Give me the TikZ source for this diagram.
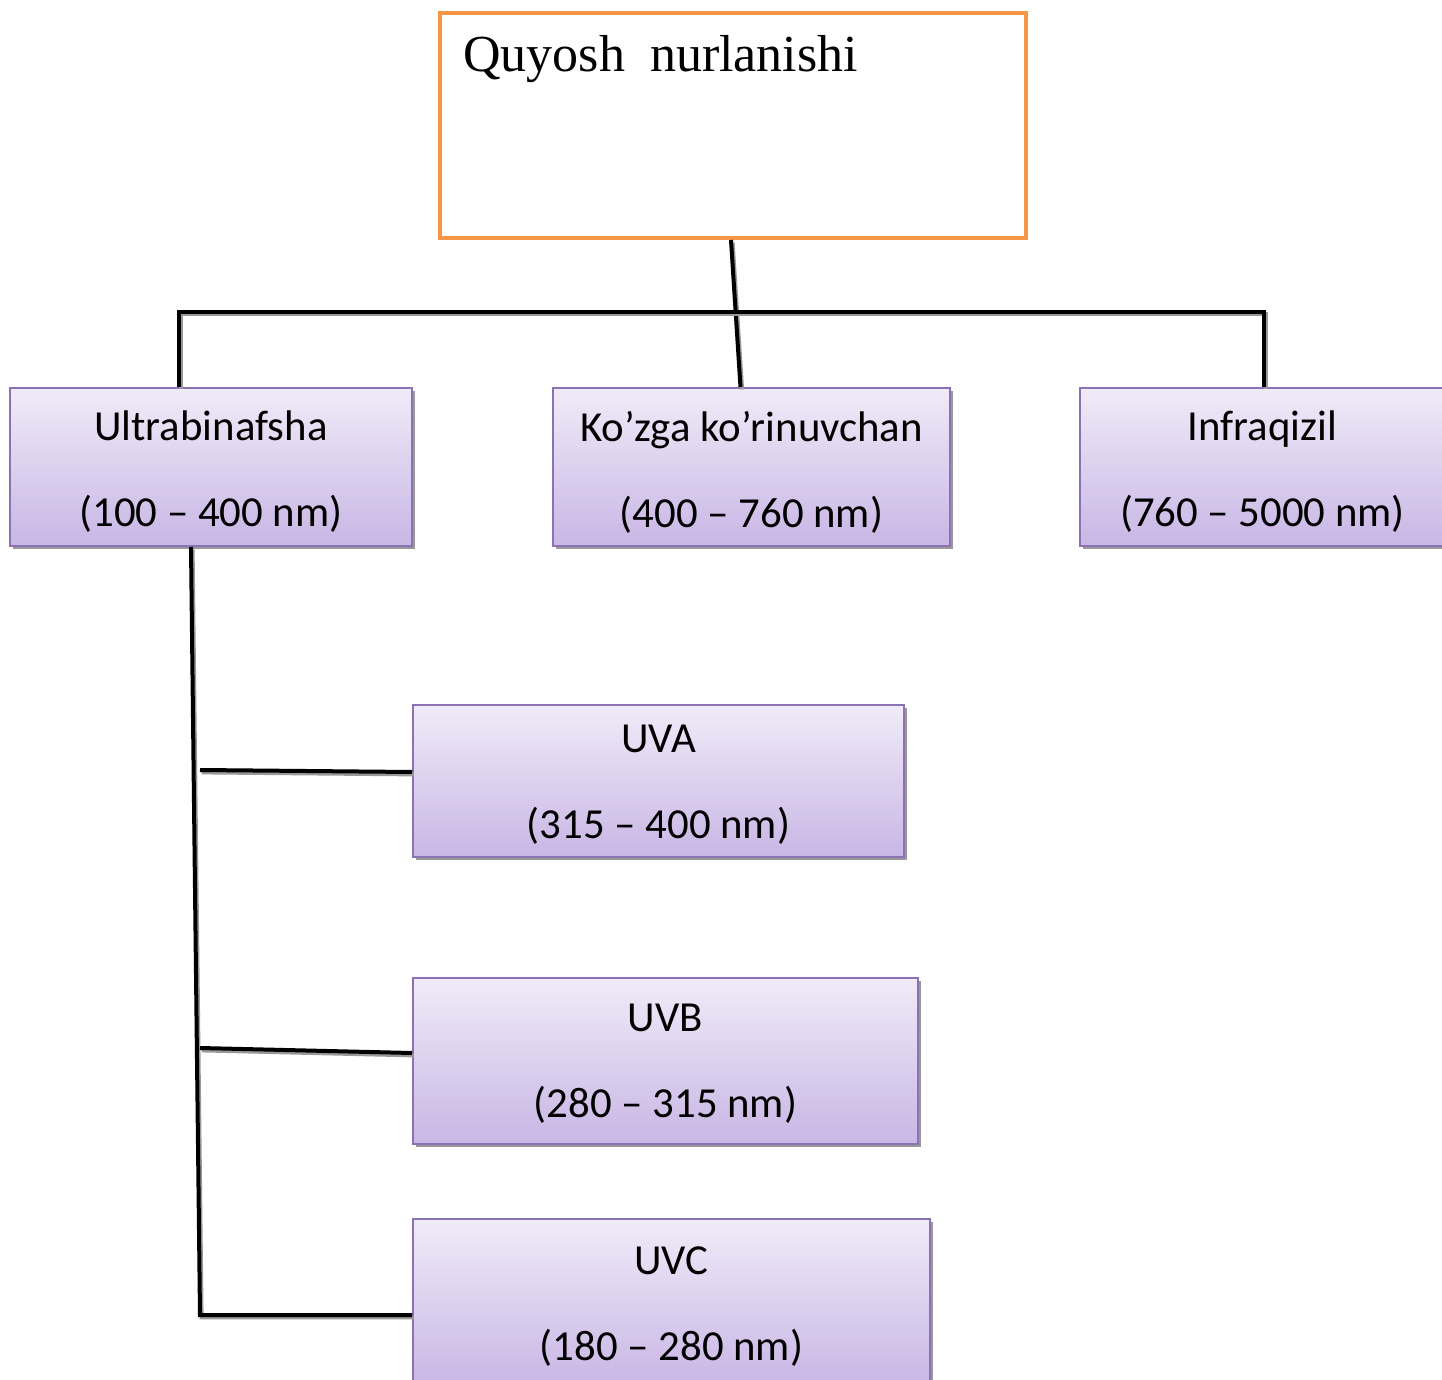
\documentclass[tikz,border=0pt]{standalone}
\usepackage{fontspec}
\setmainfont{Carlito}
\newfontfamily\titlefont{Liberation Serif}
\usetikzlibrary{shadows,calc}
\definecolor{boxtop}{HTML}{F0EBF8}
\definecolor{boxbot}{HTML}{C9B6E5}
\definecolor{boxline}{HTML}{8A72B5}
\definecolor{orangeline}{HTML}{F79646}
\tikzset{
  ubox/.style={rectangle, draw=boxline, line width=1pt, top color=boxtop, bottom color=boxbot,
    inner sep=0pt,
    drop shadow={shadow xshift=1.5pt, shadow yshift=-1.5pt, fill=black!40, opacity=1}},
  lbl/.style={align=center, inner sep=0pt, font=\fontsize{21.4}{43}\selectfont},
  conn/.style={line width=2pt, black,
    preaction={draw=black!40, line width=2pt, transform canvas={xshift=0.8pt,yshift=-1.2pt}}}
}
\begin{document}
\begin{tikzpicture}[x=0.5pt,y=-0.5pt]
\useasboundingbox (0,0) rectangle (1442,1380);
\clip (0,0) rectangle (1442,1380);
\node[draw=orangeline, line width=2pt, fill=white, minimum width=293pt, minimum height=112.5pt, inner sep=0pt] (top) at (733,125.5) {};
\node[anchor=base west, font=\titlefont\fontsize{26}{30}\selectfont, inner sep=0pt] (title) at (463,72) {Quyosh\hspace{12.5pt}nurlanishi};
\node[ubox, minimum width=201pt, minimum height=79pt] (ultra) at (211,467) {};
\node[ubox, minimum width=198.5pt, minimum height=79pt] (koz) at (751.5,467) {};
\node[ubox, minimum width=182.5pt, minimum height=79pt] (infra) at (1262.5,467) {};
\node[ubox, minimum width=245.5pt, minimum height=76pt] (uva) at (658.5,781) {};
\node[ubox, minimum width=252.5pt, minimum height=83pt] (uvb) at (665.5,1061) {};
\node[ubox, minimum width=258.5pt, minimum height=83pt] (uvc) at (671.5,1302) {};
\node[lbl] (ultraT) at ([yshift=-2.5pt]ultra.center) {Ultrabinafsha\\(100 – 400 nm)};
\node[lbl] (kozT) at ([yshift=-2.5pt]koz.center) {Ko’zga ko’rinuvchan\\(400 – 760 nm)};
\node[lbl] (infraT) at ([yshift=-2.5pt]infra.center) {Infraqizil\\(760 – 5000 nm)};
\node[lbl] (uvaT) at ([yshift=-2pt]uva.center) {UVA\\(315 – 400 nm)};
\node[lbl] (uvbT) at ([yshift=-1.5pt]uvb.center) {UVB\\(280 – 315 nm)};
\node[lbl] (uvcT) at ([yshift=-2.5pt]uvc.center) {UVC\\(180 – 280 nm)};
% connectors
\draw[conn] ([xshift=-1pt]top.south) -- ([xshift=-5.5pt]koz.north);
\draw[conn] ([xshift=85pt]ultra.north west) -- ++(0,-75) -| ([xshift=92.5pt]infra.north west);
\coordinate (ta) at (200,770);
\coordinate (tb) at (200,1048);
\coordinate (tc) at (200,1315);
\draw[conn] ([xshift=91pt]ultra.south west) -- (tc) -- ([yshift=-6.5pt]uvc.west);
\draw[conn] (ta) -- ([yshift=4.5pt]uva.west);
\draw[conn] (tb) -- ([yshift=4pt]uvb.west);
\end{tikzpicture}
\end{document}
